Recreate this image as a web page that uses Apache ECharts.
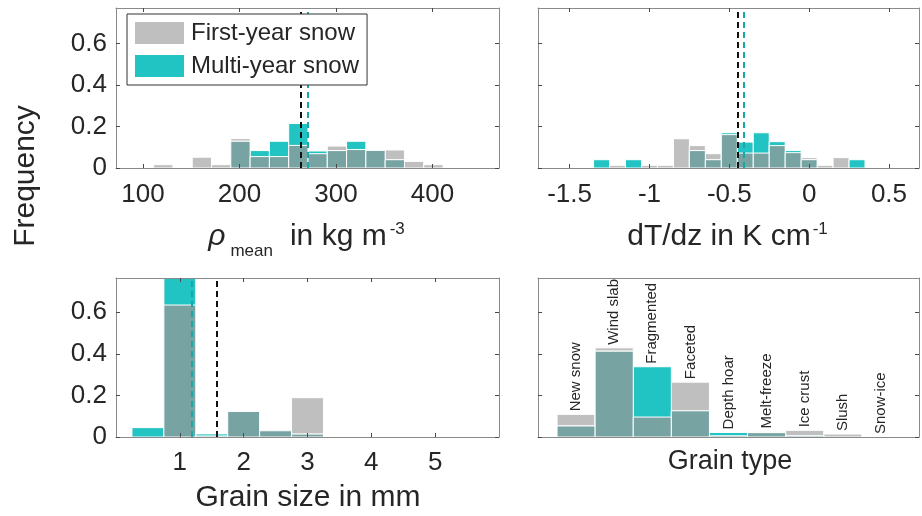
<!DOCTYPE html>
<html>
<head>
<meta charset="utf-8">
<script src="https://cdn.jsdelivr.net/npm/echarts@6/dist/echarts.min.js"></script>
<style>html,body{margin:0;padding:0;background:#fff}#c{width:922px;height:516px}</style>
</head>
<body>
<div id="c"></div>
<script>
// ---------- DATA ----------
const freqTicks = [0, 0.2, 0.4, 0.6];

// density histogram (kg m^-3), bin width 20
const densityBins = [121, 141, 161, 181, 201, 221, 241, 261, 281, 301, 321, 341, 361, 381, 401];
const densityFirstYear = [0.016, 0, 0.052, 0.016, 0.142, 0.055, 0.055, 0.109, 0.069, 0.106, 0.089, 0.085, 0.087, 0.032, 0.016];
const densityMultiYear = [0, 0, 0, 0, 0.129, 0.084, 0.129, 0.215, 0.082, 0.084, 0.129, 0.085, 0.040, 0, 0];
const densityTicks = [100, 200, 300, 400];
const densityMeanFirst = 263;
const densityMeanMulti = 271;

// temperature gradient histogram (K cm^-1), bin width 0.1
const gradientBins = [-1.3, -1.2, -1.1, -1.0, -0.9, -0.8, -0.7, -0.6, -0.5, -0.4, -0.3, -0.2, -0.1, 0, 0.1, 0.2, 0.3];
const gradientFirstYear = [0, 0.013, 0, 0.013, 0.013, 0.141, 0.108, 0.069, 0.161, 0.072, 0.072, 0.108, 0.074, 0.050, 0.013, 0.050, 0];
const gradientMultiYear = [0.040, 0, 0.040, 0, 0, 0, 0.084, 0.040, 0.170, 0.125, 0.170, 0.127, 0.084, 0.040, 0, 0, 0.040];
const gradientTicks = [-1.5, -1, -0.5, 0, 0.5];
const gradientMeanFirst = -0.447;
const gradientMeanMulti = -0.415;

// grain size histogram (mm), bin width 0.5
const grainSizeBins = [0.5, 1.0, 1.5, 2.0, 2.5, 3.0];
const grainSizeFirstYear = [0, 0.635, 0.005, 0.128, 0.032, 0.189];
const grainSizeMultiYear = [0.045, 0.763, 0.015, 0.123, 0.030, 0.014];
const grainSizeTicks = [1, 2, 3, 4, 5];
const grainSizeMeanFirst = 1.58;
const grainSizeMeanMulti = 1.19;

// grain type
const grainTypes = ['New snow', 'Wind slab', 'Fragmented', 'Faceted', 'Depth hoar', 'Melt-freeze', 'Ice crust', 'Slush', 'Snow-ice'];
const grainTypeFirstYear = [0.109, 0.429, 0.096, 0.264, 0.006, 0.027, 0.032, 0.014, 0];
const grainTypeMultiYear = [0.053, 0.413, 0.338, 0.126, 0.022, 0.021, 0.006, 0, 0];

// ---------- STYLE ----------
const FONT = '"Liberation Sans", Arial, Helvetica, sans-serif';
const GRAY = '#bfbfbf', TEAL = '#22c3c3', MIX = '#78a3a3';
const TEXT = '#262626', BOX = '#8a8a8a', TICK = '#4a4a4a';
const NAME_FY = 'First-year snow', NAME_MY = 'Multi-year snow';

const chart = echarts.init(document.getElementById('c'), null, {renderer: 'canvas'});
const cv = document.createElement('canvas').getContext('2d');
function measure(t, font) { cv.font = font; return cv.measureText(t).width; }

const grids = [
  {left: 116, top: 8, width: 383, height: 160},
  {left: 538, top: 8, width: 381, height: 160},
  {left: 116, top: 278, width: 383, height: 159},
  {left: 538, top: 278, width: 381, height: 159}
];

const xAxes = [], yAxes = [], series = [];

function addAxes(g, xmin, xmax, xticks, showX, showY, ymax, labelMargin) {
  const base = (pos) => ({
    gridIndex: g, type: 'value', min: xmin, max: xmax, position: pos, z: 5,
    axisLine: {show: true, onZero: false, lineStyle: {color: BOX, width: 1}},
    axisTick: {show: xticks.length > 0, inside: true, length: 4, customValues: xticks, lineStyle: {color: TICK, width: 1}},
    axisLabel: {show: false, customValues: xticks},
    splitLine: {show: false}
  });
  const xb = base('bottom');
  if (showX) xb.axisLabel = {show: true, customValues: xticks, fontSize: 26, color: TEXT, fontFamily: FONT, margin: labelMargin,
    formatter: v => String(v)};
  xAxes.push(xb, base('top'));
  const ybase = (pos) => ({
    gridIndex: g, type: 'value', min: 0, max: ymax, position: pos, z: 5,
    axisLine: {show: true, onZero: false, lineStyle: {color: BOX, width: 1}},
    axisTick: {show: true, inside: true, length: 4, customValues: freqTicks, lineStyle: {color: TICK, width: 1}},
    axisLabel: {show: false, customValues: freqTicks},
    splitLine: {show: false}
  });
  const yl = ybase('left');
  if (showY) yl.axisLabel = {show: true, customValues: freqTicks, fontSize: 26, color: TEXT, fontFamily: FONT, margin: 9,
    formatter: v => String(+(+v).toFixed(1))};
  yAxes.push(yl, ybase('right'));
}

function hist(g, name, centers, values, width, color, z) {
  return {
    type: 'custom', name: name, xAxisIndex: 2 * g, yAxisIndex: 2 * g, z: z,
    itemStyle: {color: color}, animation: false, silent: true,
    encode: {x: 0, y: 1},
    data: centers.map((c, i) => [c, values[i]]),
    renderItem: function (params, api) {
      const c = api.value(0), v = api.value(1);
      if (!(v > 0)) return {type: 'group', children: []};
      const p0 = api.coord([c - width / 2, v]);
      const p1 = api.coord([c + width / 2, 0]);
      return {type: 'rect', shape: {x: p0[0], y: p0[1], width: p1[0] - p0[0], height: p1[1] - p0[1]},
        style: {fill: color, stroke: '#ffffff', lineWidth: 1}};
    }
  };
}

function meanLine(g, value, color) {
  return {
    type: 'line', name: 'mean', xAxisIndex: 2 * g, yAxisIndex: 2 * g, data: [], z: 4, silent: true,
    markLine: {silent: true, symbol: ['none', 'none'], animation: false, label: {show: false},
      lineStyle: {type: [6, 4], width: 2, color: color}, data: [{xAxis: value}]}
  };
}

function panel(g, centers, fy, my, width, means) {
  series.push(hist(g, NAME_FY, centers, fy, width, GRAY, 2));
  series.push(hist(g, NAME_MY, centers, my, width, TEAL, 2));
  series.push(hist(g, 'both', centers, fy.map((v, i) => Math.min(v, my[i])), width, MIX, 3));
  if (means) {
    series.push(meanLine(g, means[0], '#111111'));
    series.push(meanLine(g, means[1], '#17a7a7'));
  }
}

addAxes(0, 72, 469, densityTicks, true, true, 0.772, 14);
addAxes(1, -1.698, 0.688, gradientTicks, true, false, 0.772, 14);
addAxes(2, 0, 6, grainSizeTicks, true, true, 0.765, 13);
addAxes(3, 0, 10, [], false, false, 0.765, 13);

panel(0, densityBins, densityFirstYear, densityMultiYear, 20, [densityMeanFirst, densityMeanMulti]);
panel(1, gradientBins, gradientFirstYear, gradientMultiYear, 0.1, [gradientMeanFirst, gradientMeanMulti]);
panel(2, grainSizeBins, grainSizeFirstYear, grainSizeMultiYear, 0.5, [grainSizeMeanFirst, grainSizeMeanMulti]);
const typePos = grainTypes.map((t, i) => i + 1);
panel(3, typePos, grainTypeFirstYear, grainTypeMultiYear, 1, null);

// category labels above grain type bars
series.push({
  type: 'custom', name: 'labels', xAxisIndex: 6, yAxisIndex: 6, z: 6, silent: true,
  encode: {x: 0, y: 1},
  data: typePos.map((p, i) => [p, Math.max(grainTypeFirstYear[i], grainTypeMultiYear[i]), i]),
  renderItem: function (params, api) {
    const pt = api.coord([api.value(0), api.value(1)]);
    return {type: 'text', x: pt[0], y: pt[1] - 3, rotation: Math.PI / 2,
      style: {text: grainTypes[api.value(2)], fontSize: 15, fontFamily: FONT, fill: TEXT, align: 'left', verticalAlign: 'middle'}};
  }
});

function composed(parts, cx, baseline) {
  const widths = parts.map(p => measure(p.text, (p.italic ? 'italic ' : '') + p.size + 'px ' + FONT));
  const total = parts.reduce((s, p, i) => s + widths[i] + (p.gap || 0), 0);
  let x = cx - total / 2;
  const children = [];
  parts.forEach((p, i) => {
    x += (p.gap || 0);
    children.push({type: 'text', x: x, y: baseline + (p.dy || 0) - 0.35 * p.size,
      style: {text: p.text, fontSize: p.size, fontStyle: p.italic ? 'italic' : 'normal', fontFamily: FONT, fill: TEXT,
        align: 'left', verticalAlign: 'middle'}});
    x += widths[i];
  });
  return {type: 'group', children: children};
}

const graphic = [
  composed([{text: 'ρ', size: 30, italic: true}, {text: 'mean', size: 17, dy: 10, gap: 5},
    {text: 'in kg m', size: 30, gap: 17}, {text: '-3', size: 17, dy: -12, gap: 3}], 306.5, 247),
  composed([{text: 'dT/dz in K cm', size: 30}, {text: '-1', size: 17, dy: -12, gap: 2}], 727.5, 247),
  composed([{text: 'Grain size in mm', size: 30}], 308, 508),
  composed([{text: 'Grain type', size: 27}], 730, 470.7),
  {type: 'text', x: 26, y: 176, rotation: Math.PI / 2,
    style: {text: 'Frequency', fontSize: 30, fontFamily: FONT, fill: TEXT, align: 'center', verticalAlign: 'middle'}}
];

chart.setOption({
  animation: false,
  backgroundColor: '#ffffff',
  grid: grids,
  xAxis: xAxes,
  yAxis: yAxes,
  legend: {
    data: [NAME_FY, NAME_MY], orient: 'vertical', left: 127, top: 14, z: 10,
    icon: 'rect', itemWidth: 49, itemHeight: 22, itemGap: 9, padding: [7, 8, 7, 8],
    borderColor: '#333333', borderWidth: 1, backgroundColor: '#ffffff',
    textStyle: {fontSize: 24, color: TEXT, fontFamily: FONT, padding: [0, 0, 0, 2]},
    selectedMode: false
  },
  graphic: graphic,
  series: series
});
</script>
</body>
</html>
